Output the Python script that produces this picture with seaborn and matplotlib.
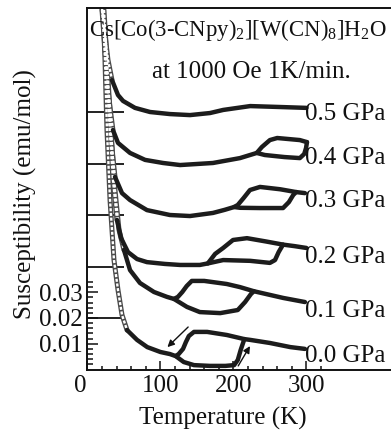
import matplotlib
matplotlib.use("Agg")
import matplotlib.pyplot as plt
from matplotlib.ticker import FixedLocator
from matplotlib.transforms import ScaledTranslation
import numpy as np
import pandas as pd
import seaborn as sns

# ---------------- data ----------------
pressure_labels = ["0.0 GPa", "0.1 GPa", "0.2 GPa", "0.3 GPa", "0.4 GPa", "0.5 GPa"]
offsets = [0.00, 0.02, 0.04, 0.06, 0.08, 0.10]

# 0.0 GPa
p00_tail_T = [21.4, 24.1, 26.8, 31.0, 36.4, 41.9, 47.4, 54.3]
p00_tail_chi = [0.1396, 0.120, 0.093, 0.0658, 0.0425, 0.0309, 0.0212, 0.0153]
p00_warm_T = [54.3, 68, 82, 100, 113, 121, 132, 146, 168, 189, 201, 206, 210, 215, 223, 250, 278, 298]
p00_warm_chi = [0.0153, 0.0115, 0.0087, 0.0068, 0.0060, 0.0052, 0.0029, 0.0017, 0.0014, 0.0014,
                0.0017, 0.0037, 0.0076, 0.0118, 0.0115, 0.0103, 0.0087, 0.0080]
p00_cool_T = [121, 125, 131, 135, 139, 146, 164, 191, 215]
p00_cool_chi = [0.0052, 0.0060, 0.0080, 0.0107, 0.0130, 0.0146, 0.0146, 0.0134, 0.0118]

# 0.1 GPa
p01_tail_T = [22.7, 26.8, 32.3, 37.8, 43.3, 50.1]
p01_tail_chi = [0.1196, 0.1002, 0.0730, 0.0497, 0.0342, 0.0264]
p01_warm_T = [50.1, 58.4, 72, 91.2, 109, 118.6, 136.4, 154, 182, 206, 216, 224, 228, 268, 298]
p01_warm_chi = [0.0264, 0.0186, 0.0136, 0.0101, 0.0082, 0.0074, 0.0043, 0.0023, 0.0019, 0.0031,
                0.0062, 0.0093, 0.0104, 0.0078, 0.0062]
p01_cool_T = [118.6, 124, 130, 136, 143, 160, 191, 209, 228]
p01_cool_chi = [0.0074, 0.0082, 0.0101, 0.0124, 0.0144, 0.0144, 0.0132, 0.0120, 0.0104]

# 0.2 GPa
p02_tail_T = [21.4, 25.5, 29.6, 35.0, 40.5]
p02_tail_chi = [0.0996, 0.0802, 0.0569, 0.0336, 0.0181]
p02_warm_T = [40.5, 46, 55.6, 68, 81.6, 106, 127, 154, 165, 186, 223, 250, 257, 262, 268, 284, 300]
p02_warm_chi = [0.0181, 0.0111, 0.0056, 0.0029, 0.0017, 0.0010, 0.0006, 0.0006, 0.0012, 0.0025,
                0.0022, 0.0014, 0.0025, 0.0056, 0.0085, 0.0079, 0.0072]
p02_cool_T = [165, 175, 186, 199.5, 218.6, 245, 268]
p02_cool_chi = [0.0012, 0.0049, 0.0072, 0.0103, 0.0110, 0.0097, 0.0085]

# 0.3 GPa
p03_tail_T = [21.4, 25.5, 29.6, 33.7, 37.8]
p03_tail_chi = [0.0796, 0.0602, 0.0408, 0.0252, 0.0148]
p03_warm_T = [37.8, 47.4, 58.4, 81.6, 113, 140.5, 172, 188, 201, 209, 236, 268, 276, 282, 286, 298]
p03_warm_chi = [0.0148, 0.0085, 0.0058, 0.0019, 0.0000, -0.0004, 0.0008, 0.0020, 0.0031, 0.0028,
                0.0027, 0.0027, 0.0050, 0.0078, 0.0089, 0.0085]
p03_cool_T = [201, 206, 214, 222.7, 236.4, 264, 286]
p03_cool_chi = [0.0031, 0.0039, 0.0066, 0.0097, 0.0109, 0.0100, 0.0089]

# 0.4 GPa
p04_tail_T = [20, 24.1, 28.2, 32.3, 35]
p04_tail_chi = [0.0596, 0.0441, 0.0285, 0.0188, 0.0130]
p04_warm_T = [35, 41.9, 58.4, 79, 103.6, 127, 172, 209, 232, 243, 270, 291, 297, 299.5, 300.8]
p04_warm_chi = [0.0130, 0.0080, 0.0041, 0.0014, 0.0002, -0.0006, 0.0002, 0.0021, 0.0041, 0.0033,
                0.0025, 0.0021, 0.0037, 0.0060, 0.0083]
p04_cool_T = [232, 239, 250, 260, 291, 300.8]
p04_cool_chi = [0.0041, 0.0064, 0.0091, 0.0099, 0.0091, 0.0083]

# 0.5 GPa
p05_tail_T = [20, 24.1, 28.2, 33.7]
p05_tail_chi = [0.0404, 0.0299, 0.0202, 0.0124]
p05_warm_T = [33.7, 41.9, 48.8, 65.2, 85.8, 113, 140.5, 168, 186, 223, 268, 300]
p05_warm_chi = [0.0124, 0.0066, 0.0043, 0.0016, 0.0000, -0.0008, -0.0012, -0.0004, 0.0008, 0.0023,
                0.0019, 0.0016]

tails = [(p00_tail_T, p00_tail_chi), (p01_tail_T, p01_tail_chi), (p02_tail_T, p02_tail_chi),
         (p03_tail_T, p03_tail_chi), (p04_tail_T, p04_tail_chi), (p05_tail_T, p05_tail_chi)]
warms = [(p00_warm_T, p00_warm_chi), (p01_warm_T, p01_warm_chi), (p02_warm_T, p02_warm_chi),
         (p03_warm_T, p03_warm_chi), (p04_warm_T, p04_warm_chi), (p05_warm_T, p05_warm_chi)]
cools = [(p00_cool_T, p00_cool_chi), (p01_cool_T, p01_cool_chi), (p02_cool_T, p02_cool_chi),
         (p03_cool_T, p03_cool_chi), (p04_cool_T, p04_cool_chi), None]

x_major_ticks = [0, 100, 200, 300]
x_tick_labels = ["0", "100", "200", "300"]
y_major_ticks = [0.01, 0.02, 0.03]
y_tick_labels = ["0.01", "0.02", "0.03"]

title_text = r"Cs[Co(3-CNpy)$_2$][W(CN)$_8$]H$_2$O"
subtitle_text = "at 1000 Oe 1K/min."

# ---------------- layout ----------------
label_x = 298
label_y = [0.0029, 0.0204, 0.0414, 0.0631, 0.0800, 0.0969]
arrow_cool = ((138, 0.0165), (109.6, 0.0087))
arrow_warm = ((206.6, 0.0014), (222.7, 0.0091))

sns.set_theme(style="ticks")
plt.rcParams["font.family"] = ["Liberation Serif", "DejaVu Serif"]
plt.rcParams["mathtext.fontset"] = "custom"
plt.rcParams["mathtext.rm"] = "Liberation Serif"
plt.rcParams["mathtext.it"] = "Liberation Serif:italic"

W, H = 391, 430
fig = plt.figure(figsize=(W / 100, H / 100), dpi=100)
x0, y_bot, y_top = 87.4, 369.5, 8.0
ax = fig.add_axes([x0 / W, (H - y_bot) / H, (W - x0) / W, (y_bot - y_top) / H])

line_col = "#1c1c1c"
# low-temperature open-circle data: drawn as a chain (grey rim, white dashed core)
for i, off in enumerate(offsets):
    tT, tc = tails[i]
    df_t = pd.DataFrame({"T": tT, "chi": np.array(tc) + off})
    sns.lineplot(data=df_t, x="T", y="chi", sort=False, estimator=None, ax=ax,
                 color="#4a4a4a", lw=3.6, legend=False, zorder=2)
    sns.lineplot(data=df_t, x="T", y="chi", sort=False, estimator=None, ax=ax,
                 color="white", lw=1.7, legend=False, zorder=2.1, dashes=False)
    ax.lines[-1].set_dashes([1.3, 0.7])

for i, off in enumerate(offsets):
    wT, wc = warms[i]
    df_w = pd.DataFrame({"T": wT, "chi": np.array(wc) + off})
    sns.lineplot(data=df_w, x="T", y="chi", sort=False, estimator=None, ax=ax,
                 color=line_col, lw=3.2, legend=False, zorder=3,
                 solid_capstyle="round", solid_joinstyle="round")
    if cools[i] is not None:
        cT, cc = cools[i]
        df_c = pd.DataFrame({"T": cT, "chi": np.array(cc) + off})
        sns.lineplot(data=df_c, x="T", y="chi", sort=False, estimator=None, ax=ax,
                     color=line_col, lw=3.2, legend=False, zorder=3,
                     solid_capstyle="round", solid_joinstyle="round")
    ax.text(label_x, label_y[i], pressure_labels[i], fontsize=18, ha="left",
            va="baseline", color="#111111", zorder=4)

# baseline markers for offset curves
ax.hlines(offsets[1:], 0, 50, color="#111111", lw=1.3, zorder=1)

for (tail, tip) in (arrow_cool, arrow_warm):
    ax.annotate("", xy=tip, xytext=tail,
                arrowprops=dict(arrowstyle="-|>", color="#111111", lw=1.0,
                                mutation_scale=10, shrinkA=0, shrinkB=0), zorder=5)

ax.set_xlim(0, (W - x0) / 0.73)
ax.set_ylim(0, (y_bot - y_top) / 2575)

ax.set_xticks(x_major_ticks)
ax.set_xticklabels(x_tick_labels)
ax.xaxis.set_minor_locator(FixedLocator([t for t in range(20, 340, 20) if t % 100 != 0]))
ax.set_yticks(y_major_ticks)
ax.set_yticklabels(y_tick_labels)
ax.yaxis.set_minor_locator(FixedLocator([k * 0.002 for k in range(1, 18) if k % 5 != 0]))

ax.tick_params(axis="both", which="both", direction="in", top=False, right=False,
               labelsize=18, width=1.1, color="#111111", labelcolor="#111111")
ax.tick_params(axis="x", which="major", length=6.5, pad=4)
ax.tick_params(axis="x", which="minor", length=2.9)
ax.tick_params(axis="y", which="major", length=8, pad=3.5)
ax.tick_params(axis="y", which="minor", length=4.3)

lbl0 = ax.get_xticklabels()[0]
lbl0.set_transform(lbl0.get_transform() + ScaledTranslation(-0.07, 0, fig.dpi_scale_trans))

for s in ("left", "bottom", "top"):
    ax.spines[s].set_linewidth(1.4)
    ax.spines[s].set_color("#111111")
ax.spines["right"].set_visible(False)

ax.set_xlabel("")
ax.set_ylabel("")
fig.text(223 / W, 1 - 425 / H, "Temperature (K)", fontsize=18, ha="center", va="baseline",
         color="#111111")
fig.text(25 / W, 1 - 194.5 / H, "Susceptibility (emu/mol)", fontsize=18, rotation=90,
         ha="center", va="center", color="#111111")
fig.text(89 / W, 1 - 36 / H, title_text, fontsize=16.4, ha="left", va="baseline", color="#111111")
fig.text(152 / W, 1 - 78 / H, subtitle_text, fontsize=18, ha="left", va="baseline",
         color="#111111")

fig.savefig("out.png", dpi=100)
